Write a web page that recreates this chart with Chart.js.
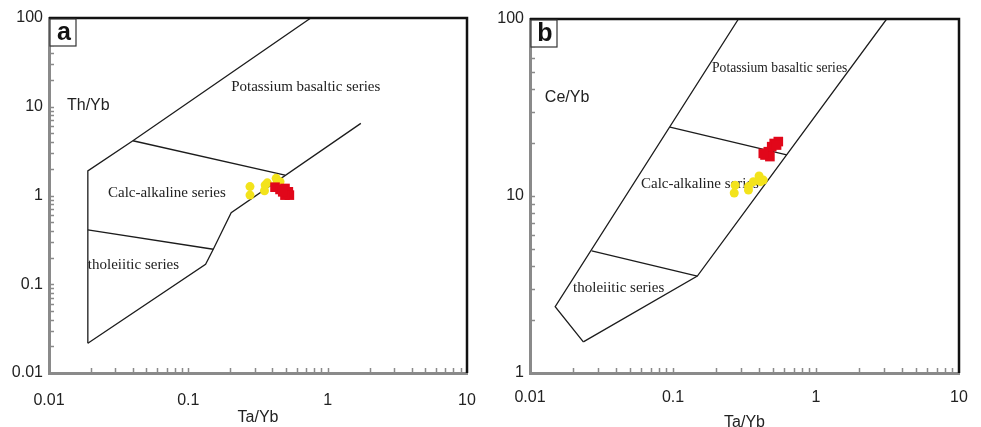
<!DOCTYPE html>
<html><head><meta charset="utf-8">
<script src="https://cdn.jsdelivr.net/npm/chart.js@4/dist/chart.umd.min.js"></script>
<style>
html,body{margin:0;padding:0;background:#fff;width:981px;height:427px;overflow:hidden}
.p{position:absolute;top:0;height:427px}
</style></head><body>
<div class="p" style="left:0;width:490px"><canvas id="ca" width="490" height="427"></canvas></div>
<div class="p" style="left:490px;width:491px"><canvas id="cb" width="491" height="427"></canvas></div>
<script>
// ---------- data ----------
const xTickLabels = ['0.01', '0.1', '1', '10'];
const aYTickLabels = ['0.01', '0.1', '1', '10', '100'];
const bYTickLabels = ['1', '10', '100'];

// panel a : Th/Yb vs Ta/Yb
const aYellowTaYb = [0.277, 0.277, 0.356, 0.352, 0.369, 0.427, 0.455, 0.430];
const aYellowThYb = [1.26, 1.01, 1.31, 1.13, 1.39, 1.56, 1.43, 1.35];
const aRedTaYb = [0.419, 0.455, 0.494, 0.522, 0.531, 0.494, 0.476];
const aRedThYb = [1.24, 1.17, 1.20, 1.10, 1.01, 1.01, 1.10];

// panel b : Ce/Yb vs Ta/Yb
const bYellowTaYb = [0.272, 0.268, 0.337, 0.337, 0.365, 0.400, 0.428, 0.410];
const bYellowCeYb = [11.5, 10.4, 11.3, 10.8, 12.05, 12.97, 12.3, 12.05];
const bRedTaYb = [0.440, 0.464, 0.490, 0.510, 0.545, 0.530, 0.476, 0.428];
const bRedCeYb = [17.05, 17.8, 19.0, 19.8, 20.3, 19.4, 16.7, 17.4];

// field boundaries: [Ta/Yb, ratio] vertices
const aUpperBoundary = [[0.019, 0.0216], [0.019, 1.89], [0.040, 4.14], [0.757, 100]];
const aLowerBoundary = [[0.019, 0.0216], [0.133, 0.168], [0.151, 0.248], [0.203, 0.64], [1.73, 6.5]];
const aCalcDivide = [[0.040, 4.14], [0.494, 1.70]];
const aTholDivide = [[0.019, 0.41], [0.151, 0.248]];

const bLeftBoundary = [[0.0236, 1.50], [0.015, 2.37], [0.287, 100]];
const bRightBoundary = [[0.0236, 1.50], [0.148, 3.53], [3.12, 100]];
const bCalcDivide = [[0.0953, 24.5], [0.624, 17.05]];
const bTholDivide = [[0.027, 4.9], [0.148, 3.53]];

// ---------- helpers ----------
const pts = (xs, ys) => xs.map((x, i) => ({x, y: ys[i]}));
const pairs = arr => arr.map(([x, y]) => ({x, y}));
function decadeTicks(lo, hi) {
  const out = [];
  for (let e = lo; e < hi; e++) for (let s = 1; s <= 9; s++) out.push(Number((s * Math.pow(10, e)).toPrecision(3)));
  out.push(Math.pow(10, hi));
  return out;
}
function labelFor(labels) {
  return v => {
    const hit = labels.find(l => Math.abs(Math.log10(parseFloat(l)) - Math.log10(v)) < 1e-6);
    return hit === undefined ? '' : hit;
  };
}
const SANS = '"Liberation Sans", Arial, sans-serif';
const SERIF = '"Liberation Serif", "Times New Roman", serif';

const decor = {
  id: 'decor',
  beforeDatasetsDraw(chart, args, o) {
    const ctx = chart.ctx, xs = chart.scales.x, ys = chart.scales.y;
    ctx.save();
    ctx.fillStyle = '#222';
    ctx.textBaseline = 'middle';
    ctx.textAlign = 'left';
    for (const t of o.texts) {
      ctx.font = t.font;
      ctx.fillText(t.text, xs.getPixelForValue(t.x), ys.getPixelForValue(t.y));
    }
    ctx.restore();
  },
  afterDatasetsDraw(chart, args, o) {
    const ctx = chart.ctx, ca = chart.chartArea, xs = chart.scales.x, ys = chart.scales.y;
    ctx.save();
    // inward tick marks
    ctx.strokeStyle = '#8a8a8a';
    ctx.lineWidth = 1.5;
    ctx.beginPath();
    xs.ticks.forEach(t => {
      if (t.value <= xs.min || t.value >= xs.max) return;
      const px = Math.round(xs.getPixelForValue(t.value)) + 0.5;
      ctx.moveTo(px, ca.bottom); ctx.lineTo(px, ca.bottom - 5);
    });
    ys.ticks.forEach(t => {
      if (t.value <= ys.min || t.value >= ys.max) return;
      const py = Math.round(ys.getPixelForValue(t.value)) + 0.5;
      ctx.moveTo(ca.left, py); ctx.lineTo(ca.left + 5, py);
    });
    ctx.stroke();
    // top / right frame
    ctx.strokeStyle = '#111';
    ctx.lineWidth = 2.5;
    ctx.beginPath();
    ctx.moveTo(ca.left, ca.top); ctx.lineTo(ca.right, ca.top); ctx.lineTo(ca.right, ca.bottom);
    ctx.stroke();
    // panel letter box
    ctx.fillStyle = '#fff';
    ctx.fillRect(ca.left + 1, ca.top + 1, 26, 27);
    ctx.strokeStyle = '#333';
    ctx.lineWidth = 1.2;
    ctx.strokeRect(ca.left + 1, ca.top + 1, 26, 27);
    ctx.fillStyle = '#111';
    ctx.font = 'bold 25px ' + SANS;
    ctx.textAlign = 'center';
    ctx.textBaseline = 'middle';
    ctx.fillText(o.letter, ca.left + 15, ca.top + 15);
    ctx.restore();
  }
};

function lineDs(arr) {
  return {type: 'scatter', data: pairs(arr), showLine: true, borderColor: '#1c1c1c', borderWidth: 1.3,
          pointRadius: 0, fill: false, tension: 0, order: 2};
}
function yellowDs(xs, ys) {
  return {data: pts(xs, ys), pointStyle: 'circle', pointRadius: 4.5, backgroundColor: '#f3e31b',
          borderColor: '#f3e31b', borderWidth: 0, showLine: false, order: 1};
}
function redDs(xs, ys) {
  return {data: pts(xs, ys), pointStyle: 'rect', pointRadius: 6.8, backgroundColor: '#e1071a',
          borderColor: '#e1071a', borderWidth: 0, showLine: false, order: 0};
}

function makeChart(id, cfg) {
  return new Chart(document.getElementById(id), {
    type: 'scatter',
    data: {datasets: cfg.datasets},
    options: {
      responsive: false, animation: false, devicePixelRatio: 1,
      layout: {autoPadding: false, padding: {top: cfg.top, right: cfg.right, left: 0, bottom: 0}},
      plugins: {legend: {display: false}, tooltip: {enabled: false}, decor: {texts: cfg.texts, letter: cfg.letter}},
      scales: {
        x: {
          type: 'logarithmic', min: 0.01, max: 10,
          afterBuildTicks: s => { s.ticks = decadeTicks(-2, 1).map(v => ({value: v})); },
          afterFit: s => { s.height = 54; s.paddingLeft = 0; s.paddingRight = 0; },
          ticks: {autoSkip: false, maxRotation: 0, padding: cfg.xPad, color: '#222',
                  font: {family: SANS, size: 16}, callback: labelFor(xTickLabels)},
          grid: {display: true, drawOnChartArea: false, drawTicks: false, color: 'rgba(0,0,0,0)'},
          border: {display: true, color: '#8a8a8a', width: 3},
          title: {display: true, text: 'Ta/Yb', color: '#222', font: {family: SANS, size: 16},
                  padding: {top: 0, bottom: cfg.titlePad}}
        },
        y: {
          type: 'logarithmic', min: cfg.yMin, max: 100,
          afterBuildTicks: s => { s.ticks = decadeTicks(Math.round(Math.log10(cfg.yMin)), 2).map(v => ({value: v})); },
          afterFit: s => { s.width = cfg.yWidth; s.paddingTop = 0; s.paddingBottom = 0; },
          ticks: {autoSkip: false, padding: 6, color: '#222',
                  font: {family: SANS, size: 16}, callback: labelFor(cfg.yLabels)},
          grid: {display: true, drawOnChartArea: false, drawTicks: false, color: 'rgba(0,0,0,0)'},
          border: {display: true, color: '#8a8a8a', width: 3}
        }
      }
    },
    plugins: [decor]
  });
}

makeChart('ca', {
  top: 18, right: 23, yWidth: 49, yMin: 0.01, yLabels: aYTickLabels, letter: 'a', xPad: 18, titlePad: 0,
  datasets: [
    redDs(aRedTaYb, aRedThYb),
    yellowDs(aYellowTaYb, aYellowThYb),
    lineDs(aUpperBoundary), lineDs(aLowerBoundary), lineDs(aCalcDivide), lineDs(aTholDivide)
  ],
  texts: [
    {text: 'Th/Yb', x: 0.01346, y: 10.2, font: '16px ' + SANS},
    {text: 'Potassium basaltic series', x: 0.203, y: 16.7, font: '15px ' + SERIF},
    {text: 'Calc-alkaline series', x: 0.0265, y: 1.067, font: '15px ' + SERIF},
    {text: 'tholeiitic series', x: 0.019, y: 0.165, font: '15px ' + SERIF}
  ]
});

makeChart('cb', {
  top: 19, right: 22, yWidth: 40, yMin: 1, yLabels: bYTickLabels, letter: 'b', xPad: 15, titlePad: -5,
  datasets: [
    redDs(bRedTaYb, bRedCeYb),
    yellowDs(bYellowTaYb, bYellowCeYb),
    lineDs(bLeftBoundary), lineDs(bRightBoundary), lineDs(bCalcDivide), lineDs(bTholDivide)
  ],
  texts: [
    {text: 'Ce/Yb', x: 0.0127, y: 35.8, font: '16px ' + SANS},
    {text: 'Potassium basaltic series', x: 0.1875, y: 52.9, font: '13.6px ' + SERIF},
    {text: 'Calc-alkaline series', x: 0.0597, y: 11.7, font: '15px ' + SERIF},
    {text: 'tholeiitic series', x: 0.020, y: 3.02, font: '15px ' + SERIF}
  ]
});
</script>
</body></html>
